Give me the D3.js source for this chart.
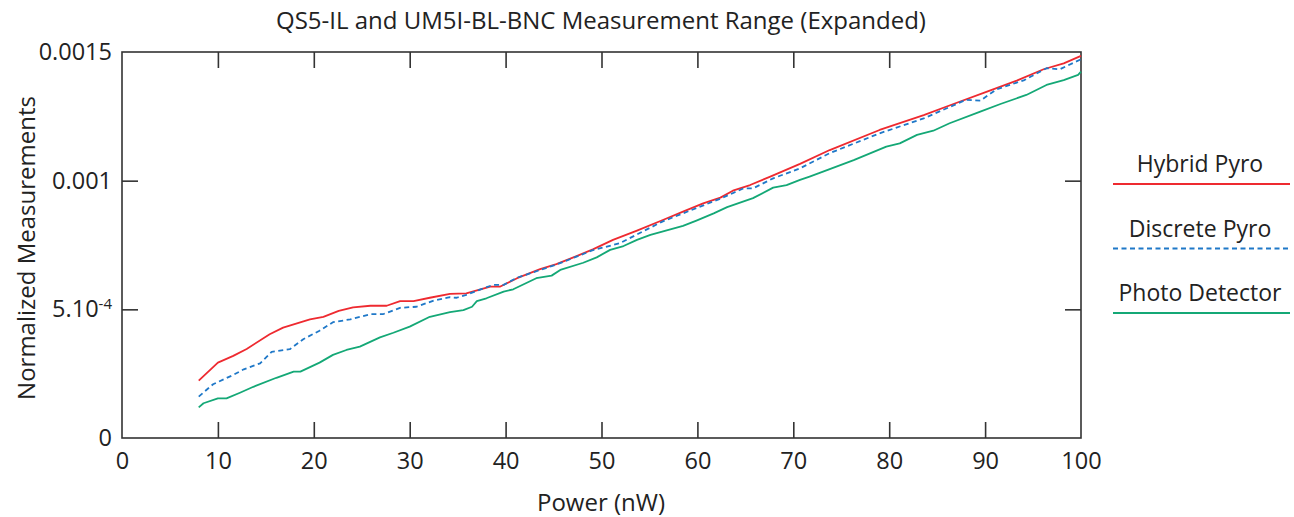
<!DOCTYPE html>
<html><head><meta charset="utf-8">
<script src="https://cdn.jsdelivr.net/npm/d3@7"></script>
<style>body{margin:0;background:#fff;} text{font-family:"Open Sans",sans-serif;fill:#222;}</style>
</head><body><svg id="c" width="1294" height="517"></svg>
<script>
const title = "QS5-IL and UM5I-BL-BNC Measurement Range (Expanded)";
const xLabel = "Power (nW)";
const yLabel = "Normalized Measurements";
const seriesNames = ["Hybrid Pyro", "Discrete Pyro", "Photo Detector"];
const xTicks = [0,10,20,30,40,50,60,70,80,90,100];
const yTicks = [0, 0.0005, 0.001, 0.0015];

const hybridX = [8,10,11.6,13,15.4,16.8,19.6,21,22.6,24.1,25.9,27.6,29,30.4,32.1,34.2,35.9,38.4,39.4,41.2,43.6,45.3,47.4,49.1,51.2,53.7,56.4,58.5,60.6,62.4,63.7,65.5,67.6,70.7,73.8,79,83.6,86.7,90.2,93.3,96.1,98.2,100];
const hybridY = [2.23,2.93,3.19,3.46,4.03,4.29,4.61,4.71,4.94,5.08,5.14,5.14,5.32,5.32,5.45,5.60,5.62,5.88,5.88,6.21,6.56,6.76,7.07,7.33,7.70,8.06,8.47,8.80,9.12,9.34,9.61,9.83,10.16,10.65,11.19,11.97,12.55,12.98,13.46,13.89,14.33,14.56,14.85];

const discreteX = [8,9.5,11.6,12.7,14.4,15.6,17.5,18.9,20.6,22,23.8,25.9,27.2,29,30.7,32.5,34.2,34.9,35.9,37.7,38.7,39.8,41.2,45.3,49.1,51.9,56.4,58.5,62.4,64.8,65.8,67.9,70.7,73.8,79,83.6,88,89.5,91.2,94.1,96.4,97.8,100];
const discreteY = [1.61,2.09,2.45,2.67,2.90,3.35,3.45,3.84,4.17,4.50,4.61,4.81,4.81,5.06,5.10,5.34,5.47,5.45,5.56,5.82,5.95,5.95,6.23,6.74,7.30,7.57,8.42,8.73,9.30,9.70,9.70,10.09,10.48,11.07,11.84,12.42,13.14,13.11,13.55,13.91,14.37,14.33,14.72];

const photoX = [8,8.5,10,10.9,12.3,13.7,16.1,17.9,18.6,20.6,22,23.4,24.8,26.9,28.3,30,32.1,34.2,35.6,36.5,37,38,39.8,40.8,43.2,44.8,45.7,48.1,49.5,50.9,52.3,53.7,55.1,58.5,59.9,61.7,63.1,65.8,67.9,69.3,70.7,71.7,73.1,76.3,79.7,81.1,82.9,84.6,86.3,89.5,91.6,94.3,96.4,98.2,99.7,100];
const photoY = [1.19,1.35,1.54,1.54,1.76,1.99,2.34,2.58,2.58,2.93,3.23,3.42,3.55,3.91,4.09,4.33,4.71,4.89,4.97,5.10,5.32,5.43,5.69,5.78,6.21,6.31,6.53,6.81,7.02,7.31,7.46,7.70,7.89,8.24,8.45,8.73,8.97,9.32,9.73,9.83,10.03,10.16,10.35,10.80,11.32,11.45,11.78,11.94,12.23,12.68,12.98,13.33,13.72,13.91,14.11,14.24];
const yUnit = 1e-4;

const colors = ["#ee2a30", "#1f78c8", "#14a876"];

const svg = d3.select("#c");
const m = {l:122, r:1081, t:52, b:438};
const x = d3.scaleLinear().domain([0,100]).range([m.l, m.r]);
const y = d3.scaleLinear().domain([0,0.0015]).range([m.b, m.t]);
const axisCol = "#333";
const tickFont = 23.5;

// frame
svg.append("rect").attr("x",m.l).attr("y",m.t).attr("width",m.r-m.l).attr("height",m.b-m.t)
  .attr("fill","none").attr("stroke",axisCol).attr("stroke-width",1.6);

// bottom axis
const gx = svg.append("g").attr("transform",`translate(0,${m.b})`)
  .call(d3.axisBottom(x).tickValues(xTicks).tickSize(-16).tickPadding(14).tickFormat(d3.format("d")));
gx.select(".domain").remove();
gx.selectAll("line").attr("stroke",axisCol).attr("stroke-width",1.6).filter(d=>d===0||d===100).remove();
gx.selectAll("text").attr("font-size",tickFont).attr("fill","#222").attr("font-family","'Open Sans',sans-serif");

// top ticks
const gt = svg.append("g").attr("transform",`translate(0,${m.t})`)
  .call(d3.axisTop(x).tickValues(xTicks.filter(d=>d>0&&d<100)).tickSize(-16).tickFormat(""));
gt.select(".domain").remove();
gt.selectAll("line").attr("stroke",axisCol).attr("stroke-width",1.6);

// left axis
const gy = svg.append("g").attr("transform",`translate(${m.l},0)`)
  .call(d3.axisLeft(y).tickValues(yTicks).tickSize(-16).tickPadding(10).tickFormat(()=>""));
gy.select(".domain").remove();
gy.selectAll("line").attr("stroke",axisCol).attr("stroke-width",1.6).filter(d=>d===0||d===0.0015).remove();
gy.selectAll("text").each(function(d){
  const t = d3.select(this).attr("font-size",tickFont).attr("fill","#222").attr("font-family","'Open Sans',sans-serif");
  if (d===0.0005){
    t.append("tspan").text("5.10");
    t.append("tspan").text("-4").attr("font-size",15).attr("dy","-0.55em");
  } else if (d===0) t.text("0");
  else t.text(String(d));
});

// right ticks
const gr = svg.append("g").attr("transform",`translate(${m.r},0)`)
  .call(d3.axisRight(y).tickValues([0.0005,0.001]).tickSize(-16).tickFormat(""));
gr.select(".domain").remove();
gr.selectAll("line").attr("stroke",axisCol).attr("stroke-width",1.6);

// series
const sets = [[hybridX,hybridY],[discreteX,discreteY],[photoX,photoY]];
const line = d3.line().x(d=>x(d[0])).y(d=>y(d[1]*yUnit));
sets.forEach(([xs,ys],i)=>{
  const data = xs.map((v,j)=>[v,ys[j]]);
  const p = svg.append("path").datum(data).attr("d",line).attr("fill","none")
    .attr("stroke",colors[i]).attr("stroke-width",1.8).attr("stroke-linejoin","round");
  if (i===1) p.attr("stroke-dasharray","5,3.5");
});

// title & labels
svg.append("text").attr("x",601).attr("y",29).attr("text-anchor","middle").attr("font-size",24).text(title);
svg.append("text").attr("x",601).attr("y",511).attr("text-anchor","middle").attr("font-size",24).text(xLabel);
svg.append("text").attr("transform","translate(35,248) rotate(-90)").attr("text-anchor","middle").attr("font-size",24).text(yLabel);

// legend
const lg = svg.append("g");
seriesNames.forEach((n,i)=>{
  const yy = 184 + i*64.5;
  lg.append("text").attr("x",1200).attr("y",yy-12).attr("text-anchor","middle").attr("font-size",23).text(n);
  const l = lg.append("line").attr("x1",1113).attr("x2",1290).attr("y1",yy).attr("y2",yy)
    .attr("stroke",colors[i]).attr("stroke-width",1.8);
  if (i===1) l.attr("stroke-dasharray","5,3.5");
});
</script></body></html>
